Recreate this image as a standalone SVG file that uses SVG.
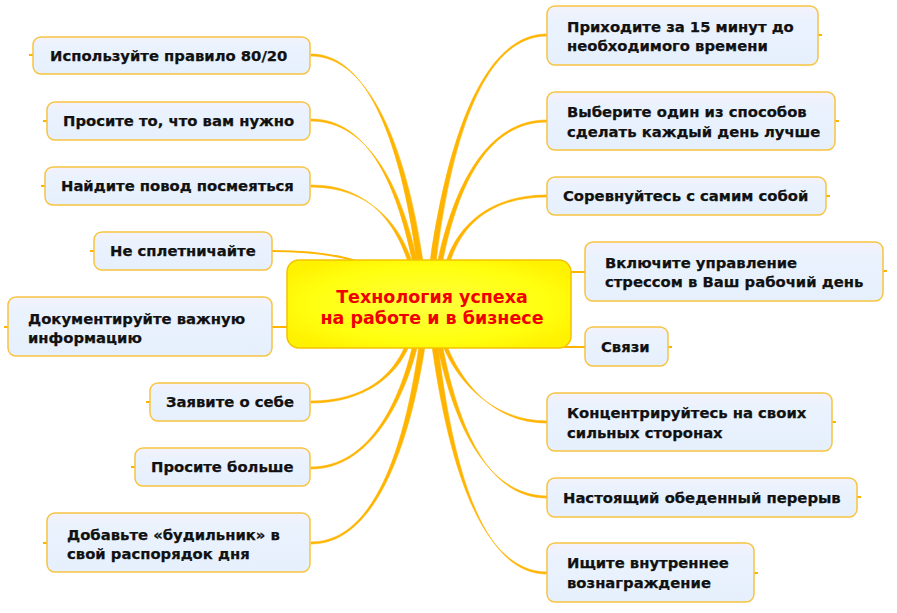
<svg xmlns="http://www.w3.org/2000/svg" width="897" height="613" viewBox="0 0 897 613">
<defs>
<linearGradient id="nodeFill" x1="0" y1="0" x2="0" y2="1">
<stop offset="0" stop-color="#F3F2FC"/>
<stop offset="0.3" stop-color="#E9F2FD"/>
<stop offset="1" stop-color="#E6F0FC"/>
</linearGradient>
<radialGradient id="centerFill" cx="0.5" cy="0.5" r="0.6">
<stop offset="0" stop-color="#FFFF40"/>
<stop offset="0.7" stop-color="#FFFF10"/>
<stop offset="1" stop-color="#FFF200"/>
</radialGradient>
</defs>
<style>
.node rect{fill:url(#nodeFill);stroke:#F8C440;stroke-width:1.5}
.node text{font-family:"DejaVu Sans","Noto Sans",sans-serif;font-weight:bold;font-size:14.8px;fill:#111;stroke:#111;stroke-width:0.25}
.conn path{fill:#FFB400;stroke:#FFB400;stroke-width:0.6}
.conn line, .conn path.thin{stroke:#FFB400;stroke-width:2;fill:none}
.stub{stroke:#FFB400;stroke-width:1.2}
#center rect{fill:url(#centerFill);stroke:#F2C200;stroke-width:1.5}
#center text{font-family:"DejaVu Sans","Noto Sans",sans-serif;font-weight:bold;font-size:17.5px;fill:#F00000;text-anchor:middle}
</style>
<g id="connectors" class="conn">
<path d="M417,262 C402,150 370,54 311,54 L311,56 C370,56 407,150 423,262 Z"/>
<path d="M412.5,262 C398,190 370,119 311,119 L311,121 C370,121 402,190 417.5,262 Z"/>
<path d="M408,262 C396,225 370,185 311,185 L311,187 C370,187 400,225 412,262 Z"/>
<path class="thin" d="M272,251 C310,251 340,255 362,263"/>
<line x1="272" y1="327" x2="290" y2="327"/>
<path d="M405,346 C393,375 365,401 311,401 L311,403 C365,403 397,375 409,346 Z"/>
<path d="M412.5,346 C400,400 370,467 311,467 L311,469 C370,469 404,400 417.5,346 Z"/>
<path d="M419,346 C407,430 380,542 311,542 L311,544 C380,544 412,430 425,346 Z"/>
<path d="M430,262 C446,150 480,34 547,34 L547,36 C480,36 450,150 436,262 Z"/>
<path d="M437.5,262 C453,190 485,120 547,120 L547,122 C485,122 457,190 442.5,262 Z"/>
<path d="M446,262 C458,225 490,195 547,195 L547,197 C490,197 462,225 450,262 Z"/>
<line x1="568" y1="272" x2="586" y2="272"/>
<line x1="560" y1="347" x2="586" y2="347"/>
<path d="M443,346 C456,378 490,421 547,421 L547,423 C490,423 460,378 447,346 Z"/>
<path d="M437.5,346 C453,420 485,496 547,496 L547,498 C485,498 457,420 442.5,346 Z"/>
<path d="M432,346 C448,460 480,572 547,572 L547,574 C480,574 452,460 438,346 Z"/>
<line class="stub" x1="29" y1="55" x2="34" y2="55"/>
<line class="stub" x1="43" y1="121" x2="48" y2="121"/>
<line class="stub" x1="41" y1="186" x2="46" y2="186"/>
<line class="stub" x1="90" y1="251" x2="95" y2="251"/>
<line class="stub" x1="4" y1="327" x2="9" y2="327"/>
<line class="stub" x1="146" y1="402" x2="151" y2="402"/>
<line class="stub" x1="131" y1="467" x2="136" y2="467"/>
<line class="stub" x1="43" y1="543" x2="48" y2="543"/>
<line class="stub" x1="817" y1="35" x2="822" y2="35"/>
<line class="stub" x1="834" y1="121" x2="839" y2="121"/>
<line class="stub" x1="825" y1="196" x2="830" y2="196"/>
<line class="stub" x1="882" y1="271" x2="887" y2="271"/>
<line class="stub" x1="667" y1="347" x2="672" y2="347"/>
<line class="stub" x1="831" y1="422" x2="836" y2="422"/>
<line class="stub" x1="856" y1="497" x2="861" y2="497"/>
<line class="stub" x1="753" y1="573" x2="758" y2="573"/>
</g>
<g id="center">
<rect x="287" y="260" width="284" height="88" rx="12"/>
<text x="432" y="303">Технология успеха</text>
<text x="432" y="324">на работе и в бизнесе</text>
</g>
<g id="n-l1" class="node"><rect x="33" y="37" width="277" height="37" rx="8"/><text x="50" y="60.5">Используйте правило 80/20</text></g>
<g id="n-l2" class="node"><rect x="47" y="102" width="263" height="38" rx="8"/><text x="63" y="126">Просите то, что вам нужно</text></g>
<g id="n-l3" class="node"><rect x="45" y="167" width="265" height="38" rx="8"/><text x="61" y="191">Найдите повод посмеяться</text></g>
<g id="n-l4" class="node"><rect x="94" y="232" width="178" height="38" rx="8"/><text x="110" y="256">Не сплетничайте</text></g>
<g id="n-l5" class="node"><rect x="8" y="297" width="264" height="59" rx="8"/><text x="28" y="323.5">Документируйте важную</text><text x="28" y="342.5">информацию</text></g>
<g id="n-l6" class="node"><rect x="150" y="383" width="160" height="38" rx="8"/><text x="166" y="407">Заявите о себе</text></g>
<g id="n-l7" class="node"><rect x="135" y="448" width="175" height="38" rx="8"/><text x="151" y="472">Просите больше</text></g>
<g id="n-l8" class="node"><rect x="47" y="513" width="263" height="59" rx="8"/><text x="67" y="539.5">Добавьте «будильник» в</text><text x="67" y="558.5">свой распорядок дня</text></g>
<g id="n-r1" class="node"><rect x="547" y="6" width="271" height="59" rx="8"/><text x="567" y="31.5">Приходите за 15 минут до</text><text x="567" y="51">необходимого времени</text></g>
<g id="n-r2" class="node"><rect x="547" y="92" width="288" height="58" rx="8"/><text x="567" y="117">Выберите один из способов</text><text x="567" y="136.5">сделать каждый день лучше</text></g>
<g id="n-r3" class="node"><rect x="547" y="177" width="279" height="38" rx="8"/><text x="563" y="201">Соревнуйтесь с самим собой</text></g>
<g id="n-r4" class="node"><rect x="585" y="242" width="298" height="59" rx="8"/><text x="605" y="267.5">Включите управление</text><text x="605" y="287">стрессом в Ваш рабочий день</text></g>
<g id="n-r5" class="node"><rect x="585" y="327" width="83" height="39" rx="8"/><text x="601" y="352">Связи</text></g>
<g id="n-r6" class="node"><rect x="547" y="393" width="285" height="58" rx="8"/><text x="567" y="418">Концентрируйтесь на своих</text><text x="567" y="437.5">сильных сторонах</text></g>
<g id="n-r7" class="node"><rect x="547" y="478" width="310" height="39" rx="8"/><text x="563" y="502.5">Настоящий обеденный перерыв</text></g>
<g id="n-r8" class="node"><rect x="547" y="543" width="207" height="59" rx="8"/><text x="567" y="568">Ищите внутреннее</text><text x="567" y="587.5">вознаграждение</text></g>
</svg>
